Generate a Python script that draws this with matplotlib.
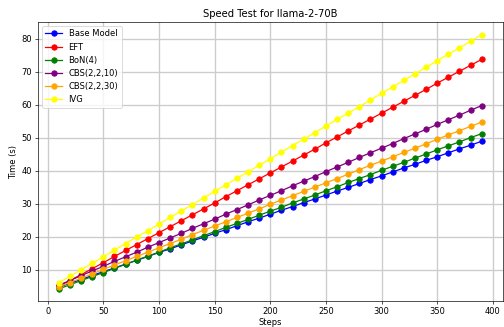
import matplotlib
matplotlib.use("Agg")
import matplotlib.pyplot as plt

steps = list(range(10, 400, 10))

base_model = [4.8, 6.0, 7.1, 8.3, 9.5, 10.6, 11.8, 12.9, 14.1, 15.3, 16.4, 17.6, 18.8,
              19.9, 21.1, 22.2, 23.4, 24.6, 25.7, 26.9, 28.1, 29.2, 30.4, 31.5, 32.7, 33.9,
              35.0, 36.2, 37.4, 38.5, 39.7, 40.9, 42.0, 43.2, 44.3, 45.5, 46.7, 47.8, 49.0]
eft = [5.0, 6.8, 8.6, 10.4, 12.2, 14.1, 15.9, 17.7, 19.5, 21.3, 23.1, 24.9, 26.7,
       28.5, 30.3, 32.2, 34.0, 35.8, 37.6, 39.4, 41.2, 43.0, 44.8, 46.6, 48.5, 50.3,
       52.1, 53.9, 55.7, 57.5, 59.3, 61.1, 62.9, 64.7, 66.6, 68.4, 70.2, 72.0, 73.8]
bon4 = [4.3, 5.5, 6.8, 8.0, 9.2, 10.5, 11.7, 13.0, 14.2, 15.4, 16.7, 17.9, 19.1,
        20.4, 21.6, 22.9, 24.1, 25.3, 26.6, 27.8, 29.0, 30.3, 31.5, 32.7, 34.0, 35.2,
        36.5, 37.7, 38.9, 40.2, 41.4, 42.6, 43.9, 45.1, 46.4, 47.6, 48.8, 50.1, 51.3]
cbs_2_2_10 = [5.4, 6.8, 8.3, 9.7, 11.1, 12.6, 14.0, 15.4, 16.9, 18.3, 19.7, 21.1, 22.6,
              24.0, 25.4, 26.9, 28.3, 29.7, 31.2, 32.6, 34.0, 35.5, 36.9, 38.3, 39.8, 41.2,
              42.6, 44.1, 45.5, 46.9, 48.3, 49.8, 51.2, 52.6, 54.1, 55.5, 56.9, 58.4, 59.8]
cbs_2_2_30 = [4.9, 6.2, 7.5, 8.8, 10.2, 11.5, 12.8, 14.1, 15.4, 16.7, 18.0, 19.3, 20.7,
              22.0, 23.3, 24.6, 25.9, 27.2, 28.5, 29.9, 31.2, 32.5, 33.8, 35.1, 36.4, 37.7,
              39.0, 40.4, 41.7, 43.0, 44.3, 45.6, 46.9, 48.2, 49.6, 50.9, 52.2, 53.5, 54.8]
ivg = [6.1, 8.1, 10.1, 12.0, 14.0, 16.0, 18.0, 20.0, 21.9, 23.9, 25.9, 27.9, 29.8,
       31.8, 33.8, 35.8, 37.8, 39.7, 41.7, 43.7, 45.7, 47.7, 49.6, 51.6, 53.6, 55.6,
       57.5, 59.5, 61.5, 63.5, 65.5, 67.4, 69.4, 71.4, 73.4, 75.4, 77.3, 79.3, 81.3]

series = [
    ("Base Model", base_model, "blue"),
    ("EFT", eft, "red"),
    ("BoN(4)", bon4, "green"),
    ("CBS(2,2,10)", cbs_2_2_10, "purple"),
    ("CBS(2,2,30)", cbs_2_2_30, "orange"),
    ("IVG", ivg, "yellow"),
]

dpi = 60
fig = plt.figure(figsize=(504 / dpi, 327 / dpi), dpi=dpi)
ax = fig.add_axes([0.0748, 0.078, 0.923, 0.855])

for nome, valores, cor in series:
    ax.plot(steps, valores, marker="o", markersize=6.5, color=cor, label=nome)

ax.set_title("Speed Test for llama-2-70B")
ax.set_xlabel("Steps", labelpad=2)
ax.set_ylabel("Time (s)")
ax.grid(True, linewidth=1.6, color="#cccccc")
ax.legend(loc="upper left")

fig.savefig("out.png", dpi=dpi)
